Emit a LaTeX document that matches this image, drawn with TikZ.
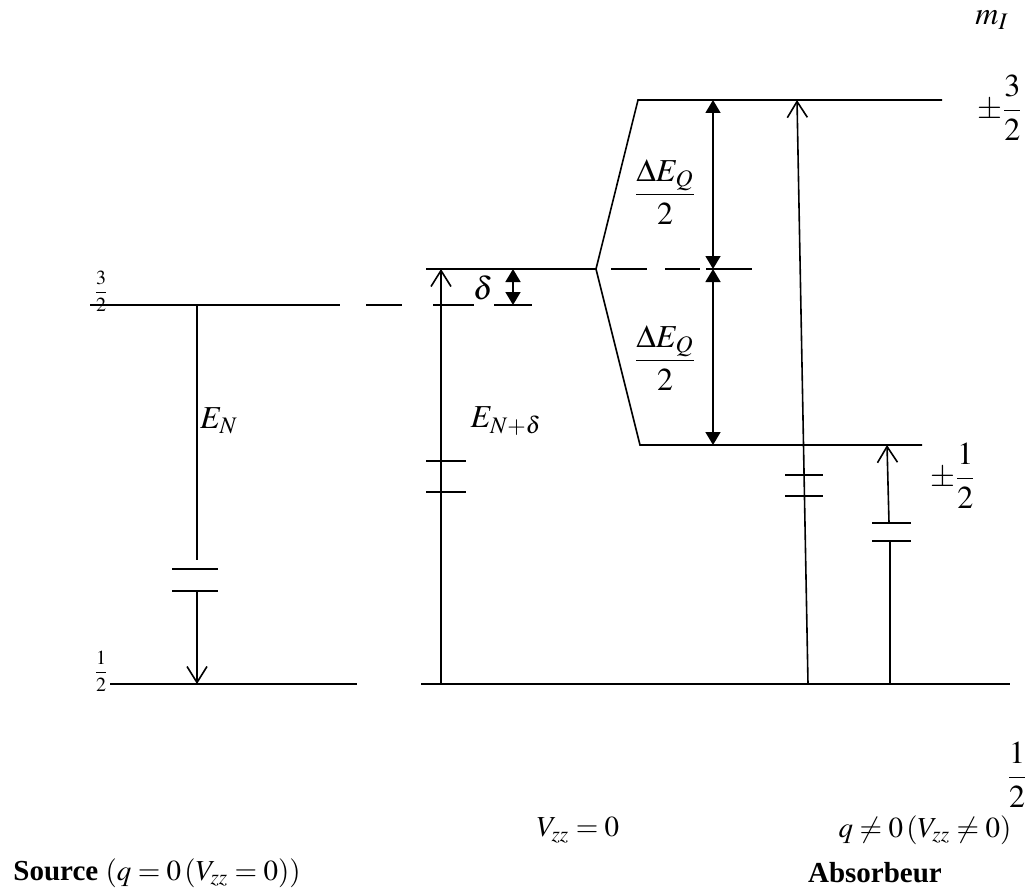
\documentclass[tikz,border=0pt]{standalone}
\usepackage{amsmath}
\usepackage{mathptmx}
\usepackage{fontspec}
\setmainfont{Liberation Serif}
\usetikzlibrary{arrows.meta}

\begin{document}
\begin{tikzpicture}[x=0.5pt,y=-0.5pt,line width=0.8pt,
  open/.style={-{Straight Barb[length=8pt,width=10pt,line width=0.8pt]}},
  both/.style={{Triangle[length=6.5pt,width=7.5pt]}-{Triangle[length=6.5pt,width=7.5pt]}},
  big/.style={font=\fontsize{16}{19}\selectfont},
  mid/.style={font=\fontsize{14.5}{17}\selectfont},
  tiny/.style={font=\fontsize{10}{12}\selectfont,inner sep=0pt}]
\useasboundingbox (0,0) rectangle (1032,893);

% levels of the source
\draw (90,305) -- (340,305);
\draw (110,684) -- (357,684);
\node[tiny] (srcThree) at (101,291) {$\dfrac{3}{2}$};
\node[tiny] (srcHalf) at (101,671) {$\dfrac{1}{2}$};

% dashed continuation of the 3/2 level
\draw (366,305) -- (402,305);
\draw (433,305) -- (474,305);
\draw (494,305) -- (532,305);

% levels of the absorber
\draw (426,269) -- (596,269);
\draw (596,269) -- (638,100) -- (942,100);
\draw (596,269) -- (640,445) -- (922,445);
\draw (611,269) -- (647,269);
\draw (665,269) -- (700,269);
\draw (706,269) -- (752,269);
\draw (421,684) -- (1010,684);

% source transition
\draw (197,305) -- (197,560);
\draw (172,569) -- (218,569);
\draw (172,591) -- (218,591);
\draw[open] (197,591) -- (197,684);
\node[big] (en) at (219,421) {$E_N$};

% absorber without splitting
\draw[open] (441,684) -- (441,269);
\draw (426,461) -- (466,461);
\draw (426,492) -- (466,492);
\node[big] (end) at (506,421) {$E_{N+\delta}$};

\draw[both] (513,269) -- (513,305);
\node[big] (delta) at (483,288) {$\delta$};

% quadrupole splitting
\draw[both] (713,269) -- (713,100);
\draw[both] (713,269) -- (713,445);
\node[big] (dqa) at (665,192) {$\dfrac{\Delta E_Q}{2}$};
\node[big] (dqb) at (665,358) {$\dfrac{\Delta E_Q}{2}$};

% transitions to the split levels
\draw[open] (808,684) -- (797,100);
\draw (785,475) -- (823,475);
\draw (785,496) -- (823,496);
\draw (890,684) -- (890,541);
\draw (872,541) -- (911,541);
\draw (872,523) -- (911,523);
\draw[open] (889,523) -- (887,445);

% quantum numbers
\node[big] (mi) at (992,20) {$m_I$};
\node[big] (pmThree) at (1000,108) {$\pm\dfrac{3}{2}$};
\node[big] (pmHalf) at (953,476) {$\pm\dfrac{1}{2}$};
\node[big] (half) at (1017,775) {$\dfrac{1}{2}$};

% captions
\node[mid] (vzz) at (578,830) {$V_{zz}=0$};
\node[mid] (qne) at (925,830) {$q\neq0\,(V_{zz}\neq0)$};
\node[mid,anchor=west] (src) at (6,873) {\textbf{Source} $(q=0\,(V_{zz}=0))$};
\node[mid] (abs) at (875,873) {\textbf{Absorbeur}};
\end{tikzpicture}
\end{document}
